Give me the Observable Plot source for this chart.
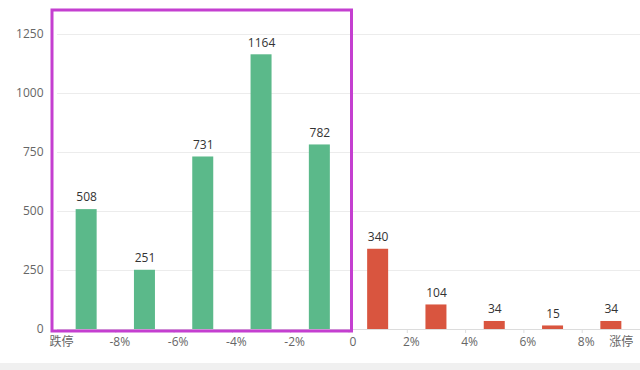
<!DOCTYPE html>
<html><head><meta charset="utf-8">
<script src="https://cdn.jsdelivr.net/npm/d3@7"></script>
<script src="https://cdn.jsdelivr.net/npm/@observablehq/plot@0.6"></script>
<style>
body{margin:0;background:#fff;font-family:"Open Sans","Noto Sans CJK SC",sans-serif;}
#band{height:7px;background:#f0f0f0;}
</style></head><body>
<div id="chart"></div><div id="band"></div>
<script>
const binStarts = [-10,-8,-6,-4,-2,0,2,4,6,8];
const counts = [508,251,731,1164,782,340,104,34,15,34];
const yTicks = [0,250,500,750,1000,1250];
const xLabelPos = [-10,-8,-6,-4,-2,0,2,4,6,8,9.2];
const xLabels = ["跌停","-8%","-6%","-4%","-2%","0","2%","4%","6%","8%","涨停"];
const binEdgeTicks = [-8,-6,-4,-2,0,2,4,6,8];
const highlightRange = [-10, 0];
const downColor = "#5bb98a", upColor = "#d9553f", highlightColor = "#c43fd0";

const data = binStarts.map((s,i)=>({x1:s, x2:s+2, y:counts[i], color: s<0?downColor:upColor}));
const labelMap = new Map(xLabelPos.map((p,i)=>[p, xLabels[i]]));

const chart = Plot.plot({
  width:640, height:363,
  marginLeft:57, marginRight:0, marginTop:34, marginBottom:34,
  x:{domain:[-10,10]},
  y:{domain:[0,1250]},
  style:{fontFamily:'"Open Sans","Noto Sans CJK SC",sans-serif', fontSize:"12px", color:"#666", background:"#fff", overflow:"visible"},
  marks:[
    Plot.gridY(yTicks.slice(1), {stroke:"#ececec", strokeOpacity:1}),
    Plot.ruleY([0], {stroke:"#dcdcdc"}),
    Plot.axisY(yTicks, {tickSize:0, tickPadding:14, tickFormat:d=>String(d), fontSize:12, fill:"#666", label:null}),
    Plot.axisX(binEdgeTicks, {tickSize:4, tickFormat:()=>"", stroke:"#ddd", label:null}),
    Plot.axisX(xLabelPos, {tickSize:0, tickPadding:8, tickFormat:d=>labelMap.get(d), dx:4, fill:"#666", fontSize:12, label:null}),
    Plot.rectY(data, {x1:"x1", x2:"x2", y:"y", fill:"color", insetLeft:18.65, insetRight:18.65}),
    Plot.text(data, {x:d=>d.x1+1, y:"y", text:d=>String(d.y), dy:-12, fill:"#333", fontSize:12}),
    Plot.rect([highlightRange], {x1:d=>d[0], x2:d=>d[1], y1:()=>0, y2:()=>1250, fill:"none", stroke:highlightColor, strokeWidth:3, insetLeft:-5, insetRight:-3, insetTop:-24, insetBottom:-2})
  ]
});
document.getElementById("chart").appendChild(chart);
</script>
</body></html>
